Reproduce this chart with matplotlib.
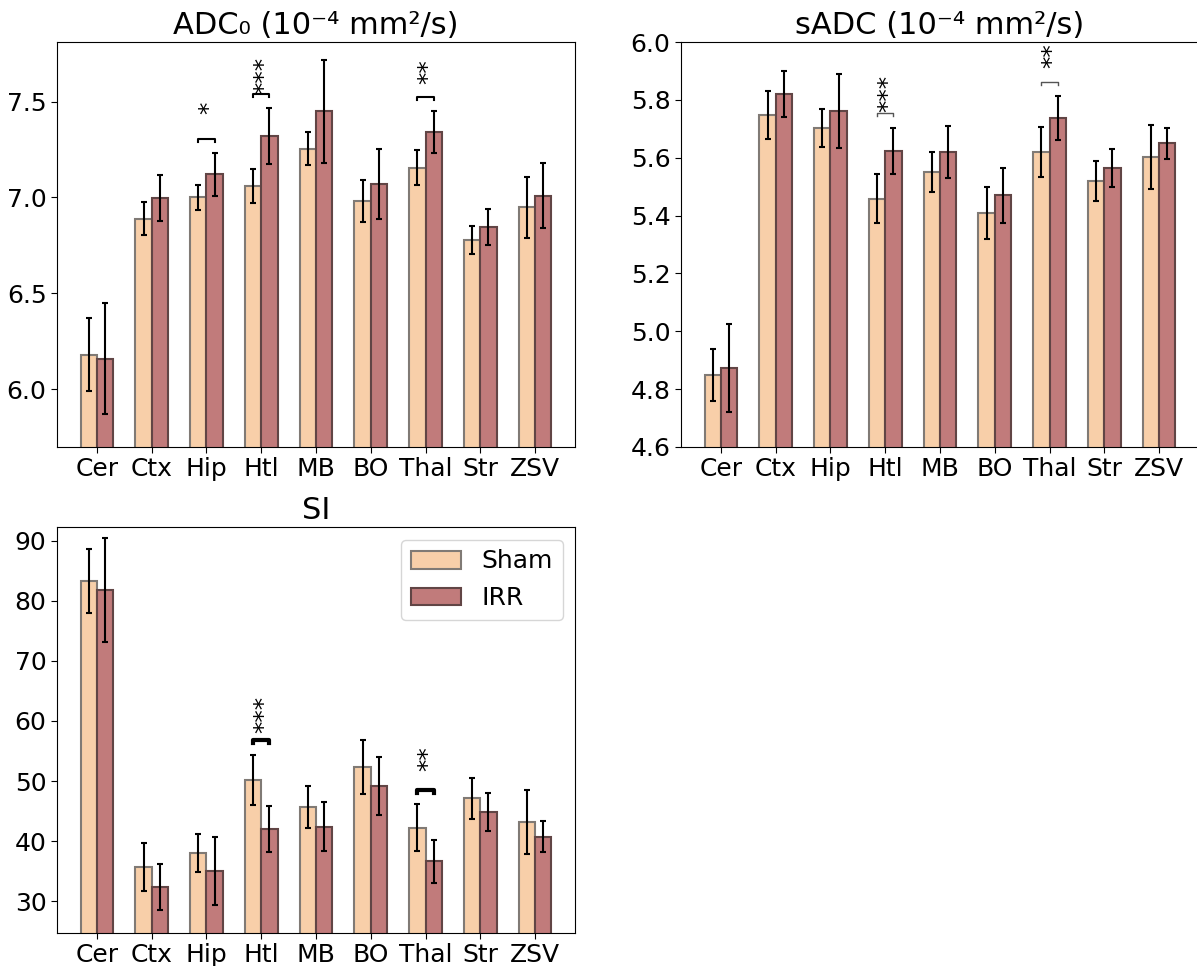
import matplotlib
matplotlib.use("Agg")
import matplotlib.pyplot as plt
import numpy as np

regions = ["Cer", "Ctx", "Hip", "Htl", "MB", "BO", "Thal", "Str", "ZSV"]

adc_sham = [6.18, 6.89, 7.00, 7.06, 7.255, 6.98, 7.155, 6.78, 6.948]
adc_sham_err = [0.19, 0.084, 0.066, 0.09, 0.088, 0.11, 0.09, 0.073, 0.16]
adc_irr = [6.16, 6.995, 7.12, 7.318, 7.448, 7.07, 7.34, 6.844, 7.01]
adc_irr_err = [0.29, 0.12, 0.11, 0.146, 0.27, 0.18, 0.11, 0.094, 0.17]

sadc_sham = [4.85, 5.748, 5.703, 5.458, 5.55, 5.41, 5.62, 5.519, 5.602]
sadc_sham_err = [0.09, 0.083, 0.067, 0.085, 0.07, 0.09, 0.085, 0.07, 0.11]
sadc_irr = [4.873, 5.82, 5.761, 5.624, 5.62, 5.47, 5.737, 5.564, 5.65]
sadc_irr_err = [0.152, 0.08, 0.127, 0.08, 0.09, 0.095, 0.075, 0.065, 0.053]

si_sham = [83.3, 35.7, 38.0, 50.2, 45.7, 52.4, 42.2, 47.1, 43.2]
si_sham_err = [5.3, 4.0, 3.2, 4.2, 3.5, 4.5, 3.9, 3.4, 5.3]
si_irr = [81.8, 32.3, 35.0, 42.0, 42.4, 49.2, 36.6, 44.8, 40.7]
si_irr_err = [8.7, 3.8, 5.7, 3.8, 4.1, 4.8, 3.6, 3.2, 2.6]

# significance: (region index, label)
adc_sig = [(2, "*"), (3, "***"), (6, "**")]
sadc_sig = [(3, "***"), (6, "**")]
si_sig = [(3, "***"), (6, "**")]

sham_color = "#f8cfa9"
irr_color = "#c17b7b"

fig = plt.figure(figsize=(11.97, 9.66), dpi=100)
W, H = 1197, 966
def add_ax(x0, y0, w, h):
    return fig.add_axes([x0 / W, 1 - (y0 + h) / H, w / W, h / H])

ax1 = add_ax(57, 42, 518, 405)
ax2 = add_ax(681, 42, 518, 405)
ax3 = add_ax(57, 527, 518, 406)

width = 0.3
x = np.arange(len(regions))

def panel(ax, sham, sham_err, irr, irr_err, title, ylim, sig, blw, bcol, star_off):
    ax.bar(x - width / 2, sham, width, yerr=sham_err, color=sham_color,
           edgecolor=(0.5, 0.48, 0.46), linewidth=1.5, capsize=2,
           error_kw=dict(ecolor="black", elinewidth=1.5, capthick=1.5), label="Sham")
    ax.bar(x + width / 2, irr, width, yerr=irr_err, color=irr_color,
           edgecolor=(0.38, 0.27, 0.27), linewidth=1.5, capsize=2,
           error_kw=dict(ecolor="black", elinewidth=1.5, capthick=1.5), label="IRR")
    ax.set_xticks(x)
    ax.set_xticklabels(regions)
    ax.set_ylim(*ylim)
    ax.set_title(title, fontsize=22, pad=6)
    ax.tick_params(labelsize=18, length=4)
    rng = ylim[1] - ylim[0]
    for i, lab in sig:
        top = max(sham[i] + sham_err[i], irr[i] + irr_err[i])
        yb = top + 0.035 * rng
        tick = 0.007 * rng
        ax.plot([i - width / 2, i - width / 2, i + width / 2, i + width / 2],
                [yb - tick, yb, yb, yb - tick], color=bcol, lw=blw)
        ax.annotate(lab, xy=(i, yb), xytext=(2, star_off), textcoords="offset points",
                    rotation=90, ha="center", va="top", fontsize=18)

panel(ax1, adc_sham, adc_sham_err, adc_irr, adc_irr_err,
      "ADC\u2080 (10\u207b\u2074 mm\u00b2/s)", (5.7, 7.81), adc_sig, 1.5, "black", 27)
ax1.set_yticks([6.0, 6.5, 7.0, 7.5])
panel(ax2, sadc_sham, sadc_sham_err, sadc_irr, sadc_irr_err,
      "sADC (10\u207b\u2074 mm\u00b2/s)", (4.6, 6.0), sadc_sig, 1.0, "#555555", 28)
ax2.set_yticks([4.6, 4.8, 5.0, 5.2, 5.4, 5.6, 5.8, 6.0])
panel(ax3, si_sham, si_sham_err, si_irr, si_irr_err,
      "SI", (24.67, 92.33), si_sig, 3.0, "black", 32)
ax3.set_yticks([30, 40, 50, 60, 70, 80, 90])
ax3.legend(loc="upper right", fontsize=18)

fig.savefig("out.png", dpi=100)
